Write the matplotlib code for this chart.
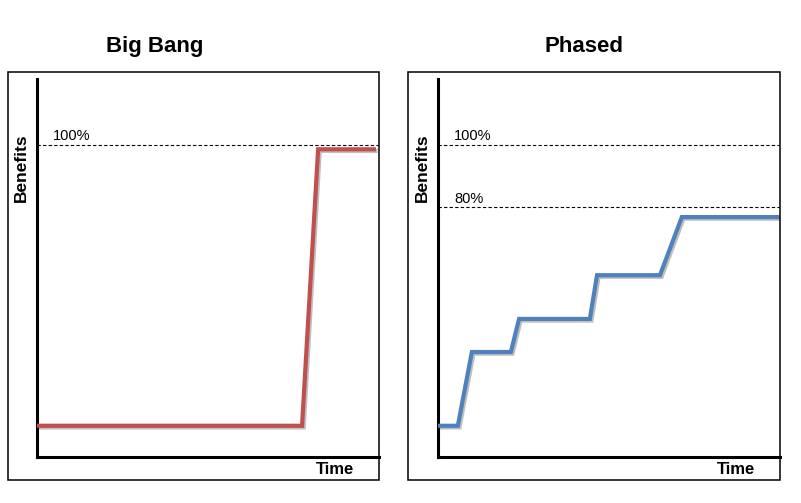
"""
Big Bang vs Phased delivery: benefits over time, two side by side panels.
"""

import matplotlib.pyplot as plt
import matplotlib.patheffects as pe
from matplotlib.patches import Rectangle

plt.rcParams['font.family'] = ['Liberation Sans', 'DejaVu Sans']

# data (time in % of the axis, benefits in %)
bigbang_time = [0, 77.5, 82.2, 98.5]
bigbang_benefit = [10, 10, 98.5, 98.5]

phased_time = [0, 5.8, 9.9, 21.3, 23.7, 44.4, 46.5, 64.9, 71.3, 99.2]
phased_benefit = [10, 10, 33.6, 33.6, 44.2, 44.2, 58.2, 58.2, 76.8, 76.8]

bigbang_refs = [100]
phased_refs = [100, 80]
ref_labels = {100: '100%', 80: '80%'}

W, H = 801, 503
fig = plt.figure(figsize=(W / 100, H / 100), dpi=100)


def px_box(x0, y0, x1, y1):
    # pixel rectangle -> figure fraction [left, bottom, width, height]
    return [x0 / W, 1 - y1 / H, (x1 - x0) / W, (y1 - y0) / H]


def panel(box, axbox, title, title_x, times, values, color, refs):
    # outer frame
    l, b, w, h = px_box(*box)
    fig.patches.append(Rectangle((l, b), w, h, transform=fig.transFigure,
                                 fill=False, edgecolor='black', linewidth=1.1))
    fig.text(title_x / W, 1 - 46 / H, title, ha='center', va='center',
             fontsize=16, fontweight='bold')

    ax = fig.add_axes(px_box(*axbox))
    ax.plot(times, values, color=color, linewidth=3, solid_joinstyle='miter',
            path_effects=[pe.SimpleLineShadow(offset=(1.2, -1.2), alpha=0.25),
                          pe.Normal()], zorder=3)
    for r in refs:
        ax.axhline(r, color='black', linewidth=0.8, linestyle=(0, (3, 2)))
        ax.text(4.7, r + 0.4, ref_labels[r], fontsize=10.5, va='bottom')

    ax.set_xlim(0, 100)
    ax.set_ylim(0, 121)
    ax.set_xticks([])
    ax.set_yticks([])
    for s in ['top', 'right']:
        ax.spines[s].set_visible(False)
    for s in ['left', 'bottom']:
        ax.spines[s].set_linewidth(2.2)
    ax.patch.set_alpha(0)
    ax.set_ylabel('Benefits', fontsize=12.5, fontweight='bold')
    ax.yaxis.set_label_coords(-0.025, 0.765)
    ax.set_xlabel('Time', fontsize=12, fontweight='bold')
    ax.xaxis.set_label_coords(0.87, -0.014)
    ax.xaxis.label.set_va('top')
    return ax


panel((8, 72, 379, 480), (37, 79, 379, 457), 'Big Bang', 155,
      bigbang_time, bigbang_benefit, '#C0504D', bigbang_refs)
panel((408, 72, 780, 480), (438, 79, 780, 457), 'Phased', 584,
      phased_time, phased_benefit, '#4F81BD', phased_refs)

fig.savefig('out.png', dpi=100)
